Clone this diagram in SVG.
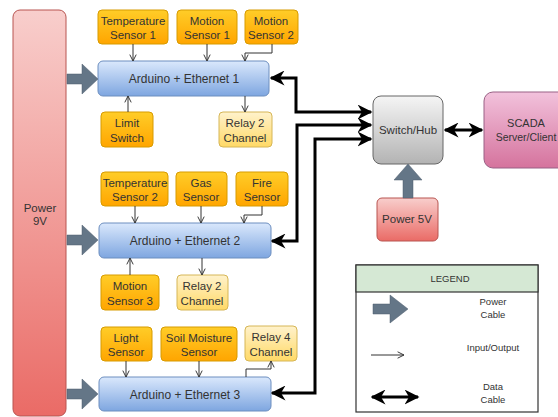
<svg xmlns="http://www.w3.org/2000/svg" width="558" height="417" viewBox="0 0 558 417">
<defs>
<linearGradient id="gOrange" x1="0" y1="0" x2="0" y2="1"><stop offset="0" stop-color="#ffcd28"/><stop offset="1" stop-color="#ffa500"/></linearGradient>
<linearGradient id="gYellow" x1="0" y1="0" x2="0" y2="1"><stop offset="0" stop-color="#fff2cc"/><stop offset="1" stop-color="#ffd966"/></linearGradient>
<linearGradient id="gBlue" x1="0" y1="0" x2="0" y2="1"><stop offset="0" stop-color="#dae8fc"/><stop offset="1" stop-color="#7ea6e0"/></linearGradient>
<linearGradient id="gGray" x1="0" y1="0" x2="0" y2="1"><stop offset="0" stop-color="#f5f5f5"/><stop offset="1" stop-color="#b3b3b3"/></linearGradient>
<linearGradient id="gPink" x1="0" y1="0" x2="0" y2="1"><stop offset="0" stop-color="#f2c2dc"/><stop offset="1" stop-color="#d5739d"/></linearGradient>
<linearGradient id="gRed" x1="0" y1="0" x2="0" y2="1"><stop offset="0" stop-color="#f8cecc"/><stop offset="1" stop-color="#ea6b66"/></linearGradient>
<marker id="thin" viewBox="0 0 10 10" refX="9" refY="5" markerWidth="8" markerHeight="8" markerUnits="userSpaceOnUse" orient="auto"><path d="M1,1 L9,5 L1,9" fill="none" stroke="#333" stroke-width="1.2"/></marker>
<marker id="thick" viewBox="0 0 10 10" refX="9" refY="5" markerWidth="5" markerHeight="5" orient="auto"><path d="M0,0 L10,5 L0,10 L3,5 Z" fill="#000"/></marker>
<marker id="thickStart" viewBox="0 0 10 10" refX="1" refY="5" markerWidth="5" markerHeight="5" orient="auto"><path d="M10,0 L0,5 L10,10 L7,5 Z" fill="#000"/></marker>
</defs>
<style>
text{font-family:"Liberation Sans",Arial,sans-serif;fill:#333;text-anchor:middle}
.s{font-size:11.5px}
.a{font-size:12px}
.l{font-size:9.5px}
.sensor{fill:url(#gOrange);stroke:#d79b00;stroke-width:1}
.relay{fill:url(#gYellow);stroke:#d6b656;stroke-width:1}
.ard{fill:url(#gBlue);stroke:#6c8ebf;stroke-width:1}
.io{fill:none;stroke:#333;stroke-width:1;marker-end:url(#thin)}
.data{fill:none;stroke:#000;stroke-width:3;marker-end:url(#thick);marker-start:url(#thickStart)}
.pwr{fill:#647687;stroke:#4e5d6c;stroke-width:0.5}
</style>
<rect width="558" height="417" fill="#fff"/>

<g id="power9v"><rect x="13" y="10" width="53" height="406" rx="7" fill="url(#gRed)" stroke="#b85450"/><text class="s" x="40" y="212">Power</text><text class="s" x="40" y="225">9V</text></g>

<g id="temp1"><rect class="sensor" x="98" y="10" width="70" height="34" rx="4"/><text class="s" x="133" y="25">Temperature</text><text class="s" x="133" y="39">Sensor 1</text></g>
<g id="motion1"><rect class="sensor" x="177" y="10" width="60" height="34" rx="4"/><text class="s" x="207" y="25">Motion</text><text class="s" x="207" y="39">Sensor 1</text></g>
<g id="motion2"><rect class="sensor" x="245" y="10" width="53" height="34" rx="4"/><text class="s" x="271" y="25">Motion</text><text class="s" x="271" y="39">Sensor 2</text></g>
<g id="arduino1"><rect class="ard" x="98" y="61" width="171" height="35" rx="5"/><text class="a" x="184" y="83">Arduino + Ethernet 1</text></g>
<g id="limit"><rect class="sensor" x="101" y="112" width="52" height="35" rx="4"/><text class="s" x="127" y="127">Limit</text><text class="s" x="127" y="142">Switch</text></g>
<g id="relay1"><rect class="relay" x="219" y="112" width="53" height="35" rx="4"/><text class="s" x="245" y="127">Relay 2</text><text class="s" x="245" y="142">Channel</text></g>

<g id="temp2"><rect class="sensor" x="101" y="172" width="67" height="34" rx="4"/><text class="s" x="135" y="187">Temperature</text><text class="s" x="135" y="201">Sensor 2</text></g>
<g id="gas"><rect class="sensor" x="176" y="172" width="51" height="34" rx="4"/><text class="s" x="201" y="187">Gas</text><text class="s" x="201" y="201">Sensor</text></g>
<g id="fire"><rect class="sensor" x="236" y="172" width="52" height="34" rx="4"/><text class="s" x="262" y="187">Fire</text><text class="s" x="262" y="201">Sensor</text></g>
<g id="arduino2"><rect class="ard" x="99" y="223" width="172" height="35" rx="5"/><text class="a" x="185" y="245">Arduino + Ethernet 2</text></g>
<g id="motion3"><rect class="sensor" x="101" y="275" width="58" height="35" rx="4"/><text class="s" x="130" y="290">Motion</text><text class="s" x="130" y="305">Sensor 3</text></g>
<g id="relay2"><rect class="relay" x="177" y="275" width="51" height="35" rx="4"/><text class="s" x="202" y="290">Relay 2</text><text class="s" x="202" y="305">Channel</text></g>

<g id="light"><rect class="sensor" x="101" y="327" width="51" height="34" rx="4"/><text class="s" x="126" y="342">Light</text><text class="s" x="126" y="356">Sensor</text></g>
<g id="soil"><rect class="sensor" x="161" y="327" width="76" height="34" rx="4"/><text class="s" x="199" y="342">Soil Moisture</text><text class="s" x="199" y="356">Sensor</text></g>
<g id="relay3"><rect class="relay" x="245" y="326" width="52" height="35" rx="4"/><text class="s" x="271" y="341">Relay 4</text><text class="s" x="271" y="356">Channel</text></g>
<g id="arduino3"><rect class="ard" x="99" y="377" width="172" height="34" rx="5"/><text class="a" x="185" y="399">Arduino + Ethernet 3</text></g>

<g id="switch"><rect x="373" y="96" width="70" height="68" rx="8" fill="url(#gGray)" stroke="#666"/><text class="s" x="408" y="134">Switch/Hub</text></g>
<g id="scada"><rect x="484" y="92" width="90" height="76" rx="9" fill="url(#gPink)" stroke="#996185"/><text x="526" y="127" font-size="11px">SCADA</text><text x="526" y="141" font-size="10.5px">Server/Client</text></g>
<g id="power5v"><rect x="377" y="198" width="61" height="43" rx="5" fill="url(#gRed)" stroke="#b85450"/><text class="s" x="407" y="223">Power 5V</text></g>

<g id="connectors">
<line class="io" x1="133" y1="44" x2="133" y2="61"/>
<line class="io" x1="207" y1="44" x2="207" y2="61"/>
<polyline class="io" points="272,44 272,53 245,53 245,61"/>
<line class="io" x1="128" y1="112" x2="128" y2="96"/>
<line class="io" x1="245" y1="96" x2="245" y2="112"/>
<line class="io" x1="135" y1="206" x2="135" y2="223"/>
<line class="io" x1="201" y1="206" x2="201" y2="223"/>
<polyline class="io" points="262,206 262,215 244,215 244,223"/>
<line class="io" x1="130" y1="275" x2="130" y2="258"/>
<line class="io" x1="202" y1="258" x2="202" y2="275"/>
<line class="io" x1="126" y1="361" x2="126" y2="377"/>
<line class="io" x1="199" y1="361" x2="199" y2="377"/>
<polyline class="io" points="246,377 246,369 271,369 271,361"/>

<polygon class="pwr" points="67,74 82,74 82,64 98,79 82,94 82,84 67,84"/>
<polygon class="pwr" points="67,235 82,235 82,225 98,240 82,255 82,245 67,245"/>
<polygon class="pwr" points="67,389 82,389 82,379 98,394 82,409 82,399 67,399"/>
<polygon class="pwr" points="403,198 403,180 394,180 408,164 422,180 413,180 413,198"/>

<polyline class="data" points="371,112 296,112 296,78 271,78"/>
<polyline class="data" points="371,125 297,125 297,241 272,241"/>
<polyline class="data" points="371,139 315,139 315,393 272,393"/>
<line class="data" x1="445" y1="130" x2="482" y2="130"/>
</g>

<g id="legend">
<rect x="356" y="265" width="182" height="147" fill="#fff" stroke="#333" stroke-width="1.2"/>
<rect x="356" y="265" width="182" height="27" fill="#d5e8d4" stroke="#333" stroke-width="1.2"/>
<text class="l" x="450" y="282">LEGEND</text>
<polygon class="pwr" points="373,304 390,304 390,295 408,309 390,323 390,314 373,314"/>
<text class="l" x="493" y="305">Power</text><text class="l" x="493" y="318">Cable</text>
<line class="io" x1="371" y1="355" x2="404" y2="355"/>
<text class="l" x="493" y="351">Input/Output</text>
<line class="data" x1="372" y1="397" x2="418" y2="397" stroke-width="2.5"/>
<text class="l" x="493" y="390">Data</text><text class="l" x="493" y="403">Cable</text>
</g>
</svg>
